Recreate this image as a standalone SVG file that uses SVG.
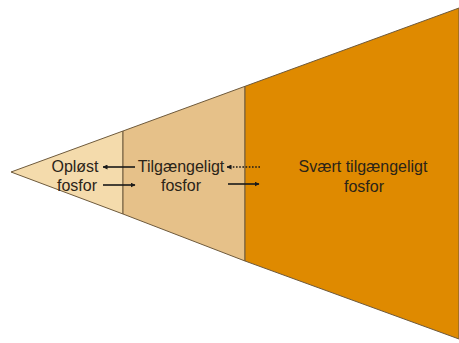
<svg xmlns="http://www.w3.org/2000/svg" width="459" height="343" viewBox="0 0 459 343">
  <defs>
    <marker id="head" viewBox="0 0 10 10" refX="9" refY="5" markerWidth="5" markerHeight="5" orient="auto" markerUnits="userSpaceOnUse">
      <path d="M0,0 L10,5 L0,10 z" fill="#1a1a1a"/>
    </marker>
    <style>
      .zone { stroke: #6e5a3c; stroke-width: 1; stroke-linejoin: round; }
      .lbl { font-family: "Liberation Sans", Arial, sans-serif; font-size: 16px; fill: #2b2418; text-anchor: middle; }
      .flow { stroke: #1a1a1a; stroke-width: 1.6; fill: none; }
      .flow.dotted { stroke-dasharray: 1.6 1.6; stroke-width: 1.4; }
    </style>
  </defs>
  <rect width="459" height="343" fill="#ffffff"/>

  <!-- cone split into three zones; top edge (11,172)->(459,8), bottom edge (11,172)->(459,339) -->
  <g id="zone-oploest">
    <polygon class="zone" points="11,172 123,131 123,214" fill="#f4dbac"/>
    <text class="lbl" x="75" y="172">Opløst</text>
    <text class="lbl" x="77" y="191">fosfor</text>
  </g>
  <g id="zone-tilgaengeligt">
    <polygon class="zone" points="123,131 245,86.3 245,261 123,214" fill="#e6c189"/>
    <text class="lbl" x="181" y="172">Tilgængeligt</text>
    <text class="lbl" x="181" y="191">fosfor</text>
  </g>
  <g id="zone-svaert">
    <polygon class="zone" points="245,86.3 459,8 459,339 245,261" fill="#df8a00"/>
    <text class="lbl" x="363" y="172">Svært tilgængeligt</text>
    <text class="lbl" x="364" y="192">fosfor</text>
  </g>

  <!-- exchange arrows between the zones -->
  <g id="connectors">
    <line class="flow" x1="135" y1="167" x2="103" y2="167" marker-end="url(#head)"/>
    <line class="flow" x1="103" y1="185" x2="135" y2="185" marker-end="url(#head)"/>
    <line class="flow dotted" x1="260" y1="167" x2="227" y2="167" marker-end="url(#head)"/>
    <line class="flow" x1="228" y1="184" x2="259" y2="184" marker-end="url(#head)"/>
  </g>
</svg>
